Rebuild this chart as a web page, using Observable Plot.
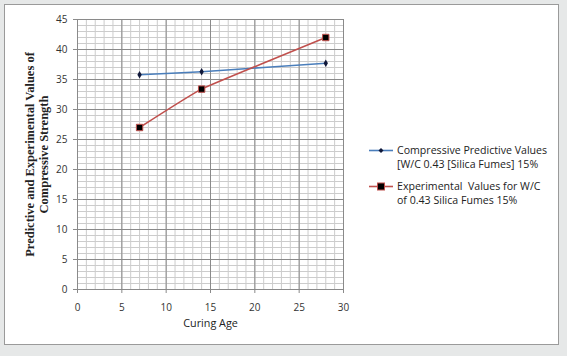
<!DOCTYPE html>
<html><head><meta charset="utf-8">
<script src="https://cdn.jsdelivr.net/npm/d3@7"></script>
<script src="https://cdn.jsdelivr.net/npm/@observablehq/plot@0.6"></script>
<style>
html,body{margin:0;padding:0;}
body{width:567px;height:356px;background:#e6e8e8;position:relative;overflow:hidden;}
#frame{position:absolute;left:4px;top:4px;width:555px;height:341px;background:#fff;border:1.5px solid #9a9a9a;box-sizing:border-box;}
#chart{position:absolute;left:0;top:0;}
#legend{position:absolute;left:369px;top:143px;font-family:'Open Sans';font-size:10.6px;color:#222;line-height:14px;}
.item{display:flex;align-items:flex-start;margin-bottom:8px;}
.item svg{flex:none;margin-top:2.5px;margin-right:4px;}
.item div{white-space:pre;}
</style>
</head><body>
<div id="frame"></div>
<div id="chart"></div>
<div id="legend"></div>
<script>
const curingAge = [7, 14, 28];
const predictive = [35.8, 36.3, 37.7];
const experimental = [27, 33.4, 42];
const seriesNames = [
  "Compressive Predictive Values\n[W/C 0.43 [Silica Fumes] 15%",
  "Experimental  Values for W/C\nof 0.43 Silica Fumes 15%"
];
const seriesColors = ["#4a7ebb", "#c0504d"];
const xTicks = [0, 5, 10, 15, 20, 25, 30];
const yTicks = [0, 5, 10, 15, 20, 25, 30, 35, 40, 45];
const xMinor = d3.range(0, 31, 1);
const yMinor = d3.range(0, 46, 1);
const xLabel = "Curing Age";
const yLabel = "Predictive and Experimental Values of\nCompressive Strength";

const predData = curingAge.map((x, i) => ({x, y: predictive[i]}));
const expData = curingAge.map((x, i) => ({x, y: experimental[i]}));

const chart = Plot.plot({
  width: 567, height: 356,
  marginLeft: 77, marginRight: 224, marginTop: 19, marginBottom: 67,
  style: {background: "transparent", fontFamily: "Open Sans", fontSize: "10px", color: "#333"},
  x: {domain: [0, 30]},
  y: {domain: [0, 45]},
  marks: [
    Plot.gridX(xMinor, {stroke: "#cccccc", strokeOpacity: 1, strokeWidth: 1}),
    Plot.gridY(yMinor, {stroke: "#cccccc", strokeOpacity: 1, strokeWidth: 1}),
    Plot.gridX(xTicks, {stroke: "#8a8a8a", strokeOpacity: 1, strokeWidth: 1}),
    Plot.gridY(yTicks, {stroke: "#8a8a8a", strokeOpacity: 1, strokeWidth: 1}),
    Plot.axisX({ticks: xTicks, tickSize: 4, tickPadding: 10, stroke: "#8a8a8a", fill: "#333", label: null}),
    Plot.axisY({ticks: yTicks, tickSize: 4, tickPadding: 6, stroke: "#8a8a8a", fill: "#333", label: null}),
    Plot.text([xLabel], {text: d => d, frameAnchor: "bottom", dy: 37, fontSize: 10.8, fill: "#222"}),
    Plot.text([yLabel], {text: d => d, frameAnchor: "left", textAnchor: "middle", rotate: -90, dx: -41, fontFamily: "Liberation Serif", fontWeight: "bold", fontSize: 12.5, fill: "#222", lineHeight: 1.15}),
    Plot.line(predData, {x: "x", y: "y", stroke: seriesColors[0], strokeWidth: 1.6, curve: "cardinal", tension: 0.7}),
    Plot.line(expData, {x: "x", y: "y", stroke: seriesColors[1], strokeWidth: 1.6, curve: "cardinal", tension: 0.7}),
    Plot.dot(predData, {x: "x", y: "y", symbol: "diamond", r: 2.3, fill: "#10183a", stroke: "none"}),
    Plot.dot(expData, {x: "x", y: "y", symbol: "square", r: 3.6, fill: "#000", stroke: seriesColors[1], strokeWidth: 1})
  ]
});
document.getElementById("chart").append(chart);

const legend = document.getElementById("legend");
seriesNames.forEach((name, i) => {
  const item = document.createElement("div");
  item.className = "item";
  const marker = i === 0
    ? `<path d="M12,2 L14.5,4.5 L12,7 L9.5,4.5Z" fill="#10183a"/>`
    : `<rect x="8.5" y="1" width="7" height="7" fill="#000" stroke="${seriesColors[1]}" stroke-width="1"/>`;
  item.innerHTML = `<svg width="24" height="9"><line x1="0" x2="24" y1="4.5" y2="4.5" stroke="${seriesColors[i]}" stroke-width="1.6"/>${marker}</svg><div>${name}</div>`;
  legend.append(item);
});
</script>
</body></html>
